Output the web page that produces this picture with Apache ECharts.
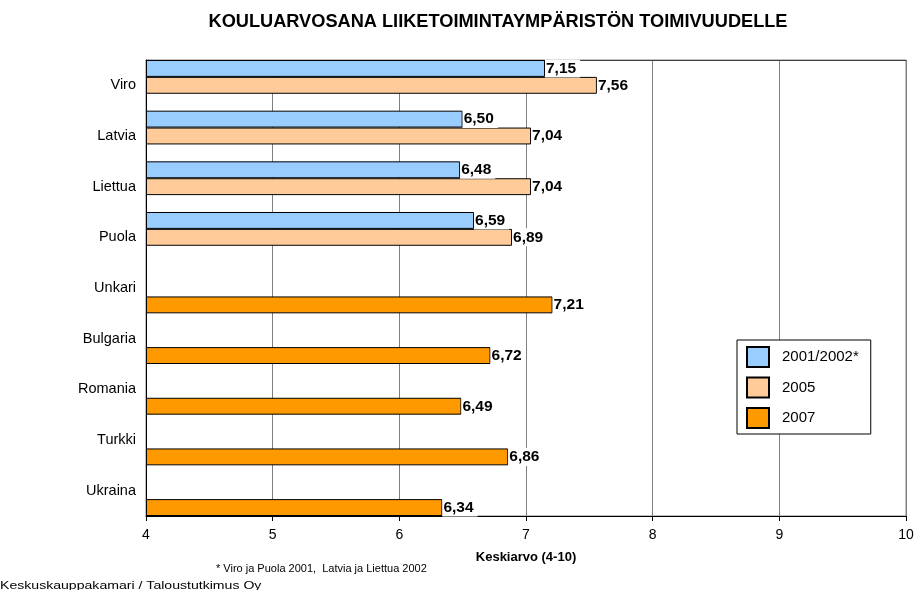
<!DOCTYPE html>
<html>
<head>
<meta charset="utf-8">
<script src="https://cdn.jsdelivr.net/npm/echarts@6/dist/echarts.min.js"></script>
<style>html,body{margin:0;padding:0;background:#fff}#c{width:917px;height:590px}</style>
</head>
<body>
<div id="c"></div>
<script>
const categories = ['Viro','Latvia','Liettua','Puola','Unkari','Bulgaria','Romania','Turkki','Ukraina'];
const seriesNames = ['2001/2002*','2005','2007'];
const values2001 = [7.15, 6.50, 6.48, 6.59, null, null, null, null, null];
const values2005 = [7.56, 7.04, 7.04, 6.89, null, null, null, null, null];
const values2007 = [null, null, null, null, 7.21, 6.72, 6.49, 6.86, 6.34];
const xTicks = [4, 5, 6, 7, 8, 9, 10];

const colors = ['#99CCFF', '#FFCC99', '#FF9900'];
const FONT = 'Liberation Sans, Arial, sans-serif';

const chart = echarts.init(document.getElementById('c'), null, {renderer: 'canvas'});

function mk(name, data, color, border) {
  return {
    name: name, type: 'bar', data: data,
    barGap: '0%', barCategoryGap: '0%',
    itemStyle: {color: color, borderColor: border, borderWidth: 1},
    label: {
      show: true, position: 'right', distance: 0,
      formatter: p => p.value == null ? '' : p.value.toFixed(2).replace('.', ','),
      fontFamily: FONT, fontWeight: 'bold', fontSize: 15.5, color: '#000',
      backgroundColor: '#fff', padding: [1, 4, 1, 1]
    },
    emphasis: {disabled: true}
  };
}

chart.setOption({
  animation: false,
  textStyle: {fontFamily: FONT},
  title: {
    text: 'KOULUARVOSANA LIIKETOIMINTAYMPÄRISTÖN TOIMIVUUDELLE',
    left: 493, textAlign: 'center', top: 8,
    textStyle: {fontFamily: FONT, fontWeight: 'bold', fontSize: 18.2, color: '#000'}
  },
  grid: {left: 146, right: 11, top: 60, bottom: 74, show: true, borderColor: '#808080', borderWidth: 1},
  legend: {
    orient: 'vertical', left: 737, top: 340,
    data: seriesNames,
    icon: 'rect', itemWidth: 22, itemHeight: 20, itemGap: 8.5,
    padding: [6, 12, 5, 9],
    borderColor: '#000', borderWidth: 1, backgroundColor: '#fff',
    textStyle: {fontFamily: FONT, fontSize: 15, color: '#000', padding: [0, 0, 0, 8]},
    selectedMode: false
  },
  xAxis: [{
    type: 'value', min: xTicks[0], max: xTicks[xTicks.length - 1], interval: 1, startValue: 4,
    name: 'Keskiarvo (4-10)', nameLocation: 'middle', nameGap: 35,
    nameTextStyle: {fontFamily: FONT, fontWeight: 'bold', fontSize: 13, color: '#000'},
    axisLine: {show: true, lineStyle: {color: '#000', width: 1}},
    axisTick: {show: true, length: 5, lineStyle: {color: '#000'}},
    axisLabel: {fontFamily: FONT, fontSize: 14, color: '#000', margin: 12},
    splitLine: {show: true, lineStyle: {color: '#808080', width: 1}}
  }, {
    type: 'value', position: 'top', min: 4, max: 10, interval: 1,
    axisLine: {show: true, lineStyle: {color: '#404040', width: 1}},
    axisTick: {show: false}, axisLabel: {show: false}, splitLine: {show: false}
  }],
  yAxis: {
    type: 'category', data: categories, inverse: true,
    axisLine: {show: true, lineStyle: {color: '#000', width: 1}},
    axisTick: {show: false},
    axisLabel: {fontFamily: FONT, fontSize: 14.5, color: '#000', margin: 10}
  },
  series: [
    mk(seriesNames[0], values2001, colors[0], '#000'),
    mk(seriesNames[1], values2005, colors[1], '#000'),
    mk(seriesNames[2], values2007, colors[2], '#000')
  ],
  graphic: [
    {type: 'text', left: 216, top: 563, style: {text: '* Viro ja Puola 2001,  Latvia ja Liettua 2002', font: '11px ' + FONT, fill: '#000'}},
    {type: 'text', x: 0, y: 580, scaleX: 1.28, style: {text: 'Keskuskauppakamari / Taloustutkimus Oy', font: '11px ' + FONT, fill: '#000'}}
  ]
});
</script>
</body>
</html>
